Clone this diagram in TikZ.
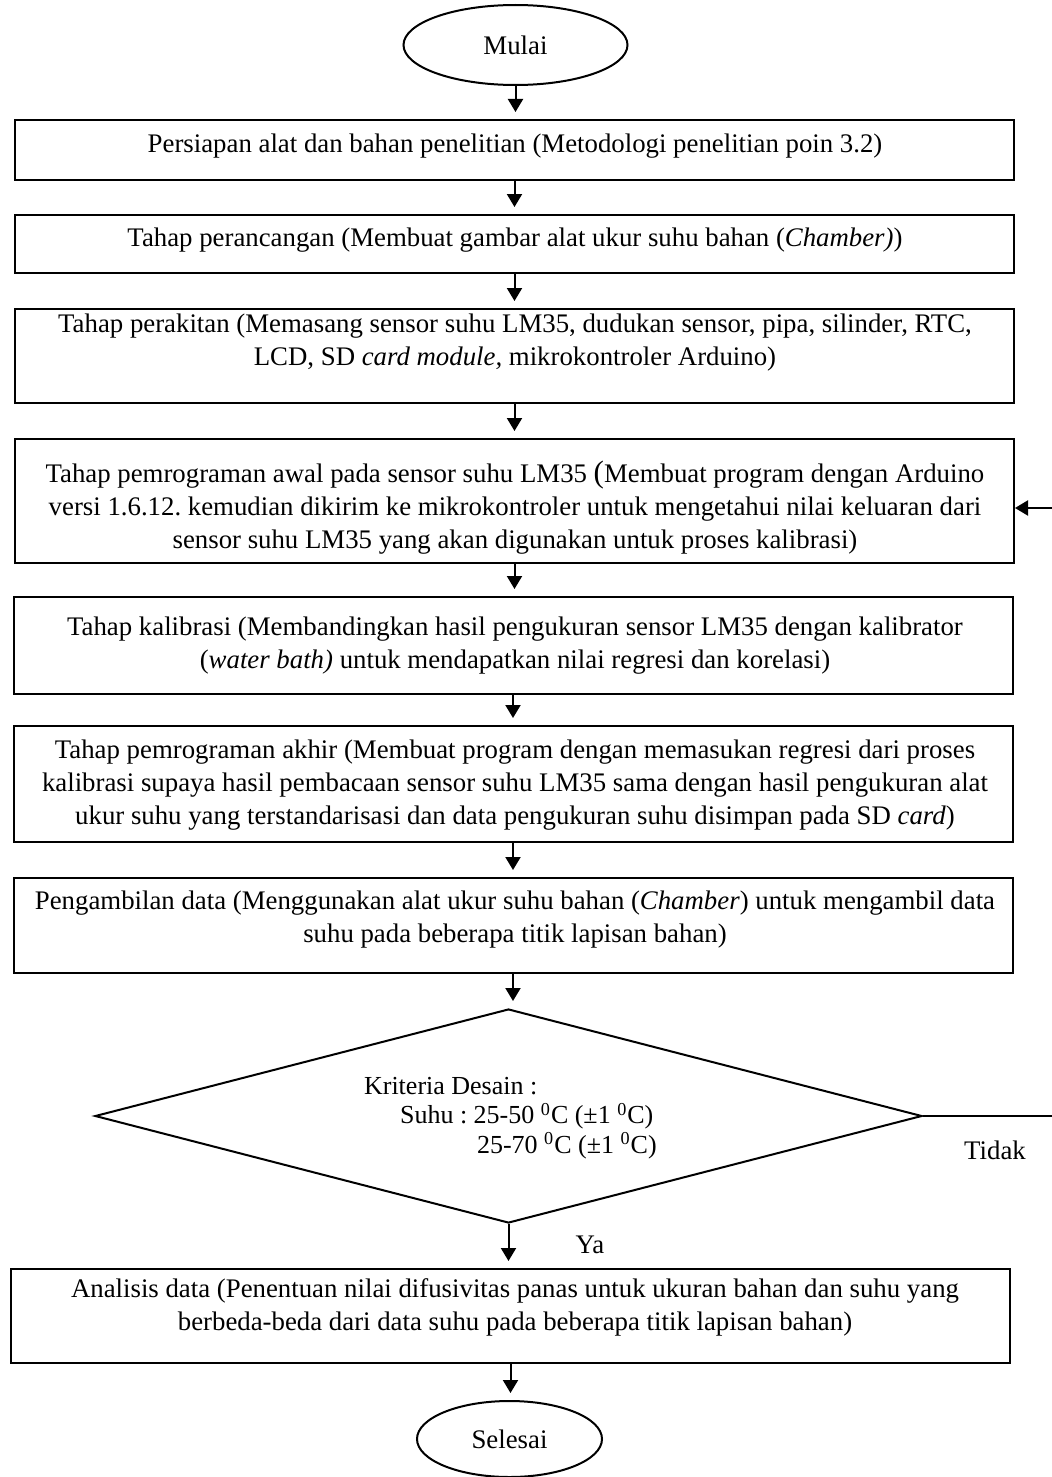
\documentclass[tikz,border=0pt]{standalone}
\usepackage{fontspec}
\setmainfont{Liberation Serif}
\usetikzlibrary{shapes.geometric,arrows.meta}
\frenchspacing

\begin{document}
\begin{tikzpicture}[x=0.5pt,y=-0.5pt,
  box/.style={draw, line width=1pt, rectangle, minimum width=499.5pt, inner sep=0pt},
  term/.style={draw, line width=1pt, ellipse, inner sep=0pt},
  txt/.style={align=center, font=\fontsize{13.4}{16.5}\selectfont},
  arr/.style={-{Triangle[length=6.5pt,width=7.5pt]}, line width=1pt, shorten >=3.5pt}]
\useasboundingbox (0,0) rectangle (1052,1477);

\node[term, minimum width=112pt, minimum height=40pt] (mulai) at (515.5,45) {};
\node[txt] (tmulai) at (515.5,45) {Mulai};

\node[box, minimum height=30pt] (b1) at (514.5,150) {};
\node[txt] (t1) at (515,146) {Persiapan alat dan bahan penelitian (Metodologi penelitian poin 3.2)};

\node[box, minimum height=29pt] (b2) at (514.5,244) {};
\node[txt] (t2) at (515,240) {Tahap perancangan (Membuat gambar alat ukur suhu bahan (\textit{Chamber)})};

\node[box, minimum height=47pt] (b3) at (514.5,356) {};
\node[txt] (t3) at (515,343) {Tahap perakitan (Memasang sensor suhu LM35, dudukan sensor, pipa, silinder, RTC,\\
  LCD, SD \textit{card module,} mikrokontroler Arduino)};

\node[box, minimum height=62pt] (b4) at (514.5,501) {};
\node[txt] (t4) at (515,508) {Tahap pemrograman awal pada sensor suhu LM35 {\fontsize{15.5}{16}\selectfont(}Membuat program dengan Arduino\\
  versi 1.6.12. kemudian dikirim ke mikrokontroler untuk mengetahui nilai keluaran dari\\
  sensor suhu LM35 yang akan digunakan untuk proses kalibrasi)};

\node[box, minimum height=48.5pt] (b5) at (513,645.5) {};
\node[txt] (t5) at (515,646) {Tahap kalibrasi (Membandingkan hasil pengukuran sensor LM35 dengan kalibrator\\
  (\textit{water bath)} untuk mendapatkan nilai regresi dan korelasi)};

\node[box, minimum height=58pt] (b6) at (513,784) {};
\node[txt] (t6) at (515,785) {Tahap pemrograman akhir (Membuat program dengan memasukan regresi dari proses\\
  kalibrasi supaya hasil pembacaan sensor suhu LM35 sama dengan hasil pengukuran alat\\
  ukur suhu yang terstandarisasi dan data pengukuran suhu disimpan pada SD \textit{card})};

\node[box, minimum height=47.5pt] (b7) at (513,925.5) {};
\node[txt] (t7) at (515,920) {Pengambilan data (Menggunakan alat ukur suhu bahan (\textit{Chamber}) untuk mengambil data\\
  suhu pada beberapa titik lapisan bahan)};

\node[draw, line width=1pt, diamond, inner sep=0pt, minimum width=413.5pt, minimum height=107pt] (dia) at (508.5,1116) {};
\node[align=left, anchor=west, font=\fontsize{13}{14.75}\selectfont] (tdia) at (357,1118)
  {Kriteria Desain :\\
   \hspace*{18pt}Suhu : 25-50 \textsuperscript{0}C (±1 \textsuperscript{0}C)\\
   \hspace*{56.5pt}25-70 \textsuperscript{0}C (±1 \textsuperscript{0}C)};

\node[box, minimum height=47pt] (b8) at (510.5,1316) {};
\node[txt] (t8) at (515,1307) {Analisis data (Penentuan nilai difusivitas panas untuk ukuran bahan dan suhu yang\\
  berbeda-beda dari data suhu pada beberapa titik lapisan bahan)};

\node[term, minimum width=92.5pt, minimum height=38pt] (selesai) at (509.5,1439) {};
\node[txt] (tselesai) at (509.5,1439) {Selesai};

\foreach \a/\b in {mulai/b1, b1/b2, b2/b3, b3/b4, b4/b5, b5/b6, b6/b7, b7/dia, dia/b8, b8/selesai}
    \draw[arr] (\a) -- (\a |- \b.north);

\node[txt] (ya) at (590,1245) {Ya};
\node[txt] (tidak) at (995,1150) {Tidak};

\coordinate (fb1) at (1054,1116);
\coordinate (fb2) at (1054,508);
\draw[arr, shorten >=0pt] (dia.east) -- (fb1) -- (fb2) -- (fb2 -| b4.east);
\end{tikzpicture}
\end{document}
